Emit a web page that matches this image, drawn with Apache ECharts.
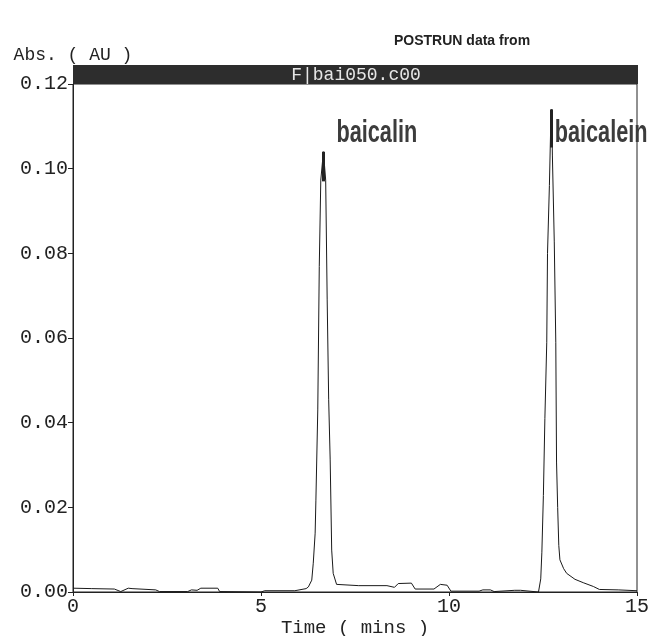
<!DOCTYPE html>
<html>
<head>
<meta charset="utf-8">
<script src="https://cdn.jsdelivr.net/npm/echarts@6/dist/echarts.min.js"></script>
<style>
  body { margin: 0; background: #fff; }
  #chromatogram { width: 650px; height: 636px; }
</style>
</head>
<body>
<div id="chromatogram"></div>
<script>
// retention time (min) and absorbance (AU)
var times = [0, 0.5, 1.1, 1.27, 1.47, 1.57, 1.62, 2.2, 2.3, 3.05, 3.15, 3.3, 3.4, 3.85, 3.9, 5.0, 5.1, 5.9, 5.95, 6.2,
  6.26, 6.35, 6.39, 6.44, 6.46, 6.51, 6.55, 6.59, 6.66, 6.72, 6.76, 6.80, 6.84, 6.88, 6.92, 7.01,
  7.6, 8.35, 8.4, 8.55, 8.65, 9.0, 9.1, 9.6, 9.77, 9.95, 10.05, 10.8, 10.9, 11.1, 11.2, 11.75, 11.9, 11.95, 12.38,
  12.44, 12.47, 12.51, 12.55, 12.60, 12.62, 12.67, 12.70, 12.73, 12.75, 12.80, 12.84, 12.86, 12.89,
  12.92, 12.95, 13.05, 13.13, 13.35, 13.57, 13.84, 14.0, 14.5, 15.0];
var absorbance = [0.0009, 0.0008, 0.0007, 0.0001, 0.0009, 0.0008, 0.0005, 0.0005, 0.0001, 0.0001, 0.0005, 0.0004, 0.0009, 0.0009, 0.0001, 0.0, 0.0003, 0.0003, 0.0007, 0.0008,
  0.0012, 0.0028, 0.0068, 0.0139, 0.0217, 0.043, 0.0769, 0.0973, 0.104, 0.0973, 0.069, 0.0454, 0.0312, 0.0099, 0.0044, 0.0018,
  0.0015, 0.0015, 0.0011, 0.0011, 0.002, 0.0021, 0.0007, 0.0007, 0.0018, 0.0016, 0.0002, 0.0002, 0.0005, 0.0005, 0.0001, 0.0004, 0.0004, 0.0001, 0.0,
  0.0031, 0.0094, 0.0228, 0.041, 0.059, 0.080, 0.096, 0.108, 0.114, 0.103, 0.0827, 0.059, 0.0307, 0.020,
  0.011, 0.0076, 0.0055, 0.0044, 0.003, 0.0022, 0.0013, 0.0006, 0.0005, 0.0003];

var peakNames = ['baicalin', 'baicalein'];
var peakTimes = [6.66, 12.73];
var peakTops = [0.104, 0.114];
var peakMarkEnds = [0.097, 0.105];

var monoFont = '"Liberation Mono", "DejaVu Sans Mono", monospace';
var sansFont = '"Liberation Sans", Arial, sans-serif';

var traceData = times.map(function (t, i) { return [t, absorbance[i]]; });

var myChart = echarts.init(document.getElementById('chromatogram'));
var option = {
  backgroundColor: '#fff',
  animation: false,
  title: {
    text: 'POSTRUN data from',
    left: 389,
    top: 29,
    textStyle: { fontFamily: sansFont, fontWeight: 'bold', fontSize: 14, color: '#222' }
  },
  grid: {
    left: 73, right: 13, top: 84, bottom: 44,
    outerBoundsMode: 'none',
    show: true, borderColor: '#222', borderWidth: 1, backgroundColor: 'transparent'
  },
  graphic: [
    { type: 'rect', left: 73, top: 65, shape: { width: 565, height: 19 }, style: { fill: '#2d2d2d' } },
    { type: 'text', x: 356, y: 75, style: { text: 'F|bai050.c00', fill: '#e6e6e6', font: '18px ' + monoFont, textAlign: 'center', textVerticalAlign: 'middle' } }
  ],
  xAxis: {
    type: 'value',
    min: 0, max: 15, interval: 5,
    name: 'Time ( mins )',
    nameLocation: 'middle',
    nameGap: 26,
    nameMoveOverlap: false,
    nameTextStyle: { fontFamily: monoFont, fontSize: 19, color: '#222' },
    axisLine: { lineStyle: { color: '#222', width: 1 } },
    axisTick: { show: true, length: 4, lineStyle: { color: '#222' } },
    axisLabel: { fontFamily: monoFont, fontSize: 20, color: '#222', margin: 5 },
    splitLine: { show: false }
  },
  yAxis: {
    type: 'value',
    min: 0, max: 0.12, interval: 0.02,
    name: 'Abs. ( AU )',
    nameLocation: 'end',
    nameGap: 29,
    nameTextStyle: { fontFamily: monoFont, fontSize: 18, color: '#222', align: 'center', verticalAlign: 'middle' },
    axisLine: { show: true, lineStyle: { color: '#222', width: 1 } },
    axisTick: { show: true, length: 5, lineStyle: { color: '#222' } },
    axisLabel: {
      fontFamily: monoFont, fontSize: 20, color: '#222', margin: 5,
      formatter: function (v) { return v.toFixed(2); }
    },
    splitLine: { show: false }
  },
  series: [{
    type: 'line',
    data: traceData,
    showSymbol: false,
    lineStyle: { color: '#1a1a1a', width: 1 },
    markLine: {
      silent: true,
      symbol: 'none',
      lineStyle: { color: '#222', width: 3, type: 'solid' },
      label: { show: false },
      data: peakTimes.map(function (t, i) {
        return [{ coord: [t, peakTops[i]] }, { coord: [t, peakMarkEnds[i]] }];
      })
    }
  }]
};
myChart.setOption(option);

// peak names: condensed bold text anchored to each peak top through the chart's scales
var labelOffsets = [[13, -18], [3, 24]];
var peakLabels = peakNames.map(function (n, i) {
  var p = myChart.convertToPixel({ seriesIndex: 0 }, [peakTimes[i], peakTops[i]]);
  return {
    type: 'text',
    x: p[0] + labelOffsets[i][0],
    y: p[1] + labelOffsets[i][1],
    scaleX: 0.7,
    style: {
      text: n,
      fill: '#3c3c3c',
      font: 'bold 31px ' + sansFont,
      textAlign: 'left',
      textVerticalAlign: 'middle'
    }
  };
});
myChart.setOption({ graphic: option.graphic.concat(peakLabels) });

window.onresize = function () { myChart.resize(); };
</script>
</body>
</html>
